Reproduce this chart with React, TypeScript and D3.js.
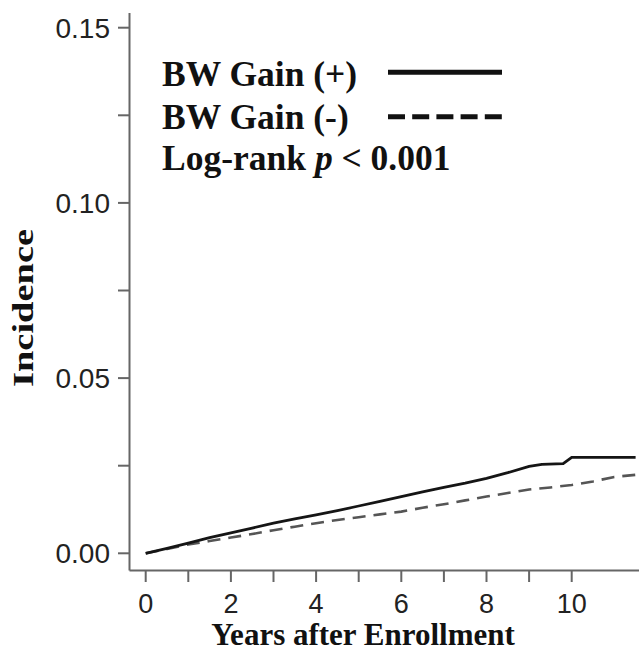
import React from "react";
import * as d3 from "d3";

const years = [0, 0.5, 1, 1.5, 2, 2.5, 3, 3.5, 4, 4.5, 5, 5.5, 6, 6.5, 7, 7.5, 8, 8.5, 9, 9.3, 9.8, 10, 11.5];
const gainPlus = [0, 0.0014, 0.0029, 0.0045, 0.0058, 0.0072, 0.0086, 0.0098, 0.011, 0.0122, 0.0135, 0.0148, 0.0162, 0.0175, 0.0188, 0.02, 0.0214, 0.023, 0.0248, 0.0254, 0.0256, 0.0274, 0.0274];
const yearsMinus = [0, 0.5, 1, 1.5, 2, 2.5, 3, 3.5, 4, 4.5, 5, 5.5, 6, 6.5, 7, 7.5, 8, 8.5, 9, 9.5, 10, 10.5, 11, 11.5];
const gainMinus = [0, 0.0012, 0.0025, 0.0035, 0.0045, 0.0055, 0.0066, 0.0076, 0.0086, 0.0095, 0.0103, 0.0111, 0.0119, 0.013, 0.014, 0.0151, 0.0162, 0.0172, 0.0182, 0.0188, 0.0195, 0.0205, 0.0218, 0.0224];
const xTicks = [0, 1, 2, 3, 4, 5, 6, 7, 8, 9, 10];
const xLabels = [0, 2, 4, 6, 8, 10];
const yTicks = [0, 0.025, 0.05, 0.075, 0.1, 0.125, 0.15];
const yLabels = [0, 0.05, 0.1, 0.15];
const legendLabels = ["BW Gain (+)", "BW Gain (-)"];

export default function App() {
  const x = d3.scaleLinear().domain([0, 10]).range([145.7, 571.7]);
  const y = d3.scaleLinear().domain([0, 0.15]).range([553.3, 27.7]);
  const axisX = 129.5;
  const axisY = 570.5;
  const axisColor = "#666";
  const serif = "'Liberation Serif', 'Times New Roman', serif";
  const sans = "'Liberation Sans', Arial, sans-serif";

  const line = d3
    .line<[number, number]>()
    .x((d) => x(d[0]))
    .y((d) => y(d[1]));
  const plusPath = line(years.map((t, i) => [t, gainPlus[i]] as [number, number])) || "";
  const minusPath = line(yearsMinus.map((t, i) => [t, gainMinus[i]] as [number, number])) || "";

  return (
    <svg
      width={639}
      height={652}
      style={{ position: "absolute", left: 0, top: 0, background: "#fff" }}
    >
      {/* axes */}
      <line x1={axisX} x2={axisX} y1={13} y2={axisY} stroke={axisColor} strokeWidth={2} />
      <line x1={axisX} x2={639} y1={axisY} y2={axisY} stroke={axisColor} strokeWidth={2} />
      {yTicks.map((t) => (
        <line key={"yt" + t} x1={118} x2={axisX} y1={y(t)} y2={y(t)} stroke={axisColor} strokeWidth={2} />
      ))}
      {yLabels.map((t) => (
        <text
          key={"yl" + t}
          x={110}
          y={y(t)}
          dy="0.36em"
          textAnchor="end"
          fontFamily={sans}
          fontSize={28}
          fill="#222"
        >
          {d3.format(".2f")(t)}
        </text>
      ))}
      {xTicks.map((t) => (
        <line key={"xt" + t} x1={x(t)} x2={x(t)} y1={axisY} y2={582} stroke={axisColor} strokeWidth={2} />
      ))}
      {xLabels.map((t) => (
        <text
          key={"xl" + t}
          x={x(t)}
          y={613}
          textAnchor="middle"
          fontFamily={sans}
          fontSize={27}
          fill="#222"
        >
          {t}
        </text>
      ))}
      <text
        x={363}
        y={645}
        textAnchor="middle"
        fontFamily={serif}
        fontWeight="bold"
        fontSize={31}
        fill="#111"
      >
        Years after Enrollment
      </text>
      <text
        transform="translate(33,308) rotate(-90)"
        textAnchor="middle"
        fontFamily={serif}
        fontWeight="bold"
        fontSize={30}
        fill="#111"
        textLength={158}
        lengthAdjust="spacingAndGlyphs"
      >
        Incidence
      </text>

      {/* curves */}
      <path d={minusPath} fill="none" stroke="#555" strokeWidth={2.6} strokeDasharray="13,8" />
      <path d={plusPath} fill="none" stroke="#151515" strokeWidth={2.8} />

      {/* legend */}
      <text x={162} y={86} fontFamily={serif} fontWeight="bold" fontSize={35.5} fill="#111">
        {legendLabels[0]}
      </text>
      <text x={162} y={129} fontFamily={serif} fontWeight="bold" fontSize={35.5} fill="#111">
        {legendLabels[1]}
      </text>
      <text x={162} y={170} fontFamily={serif} fontWeight="bold" fontSize={35.5} fill="#111">
        Log-rank <tspan fontStyle="italic">p</tspan> &lt; 0.001
      </text>
      <line x1={388} x2={502} y1={72.3} y2={72.3} stroke="#111" strokeWidth={5} />
      <line x1={388} x2={502} y1={116.7} y2={116.7} stroke="#111" strokeWidth={5} strokeDasharray="17,7.2" />
    </svg>
  );
}
